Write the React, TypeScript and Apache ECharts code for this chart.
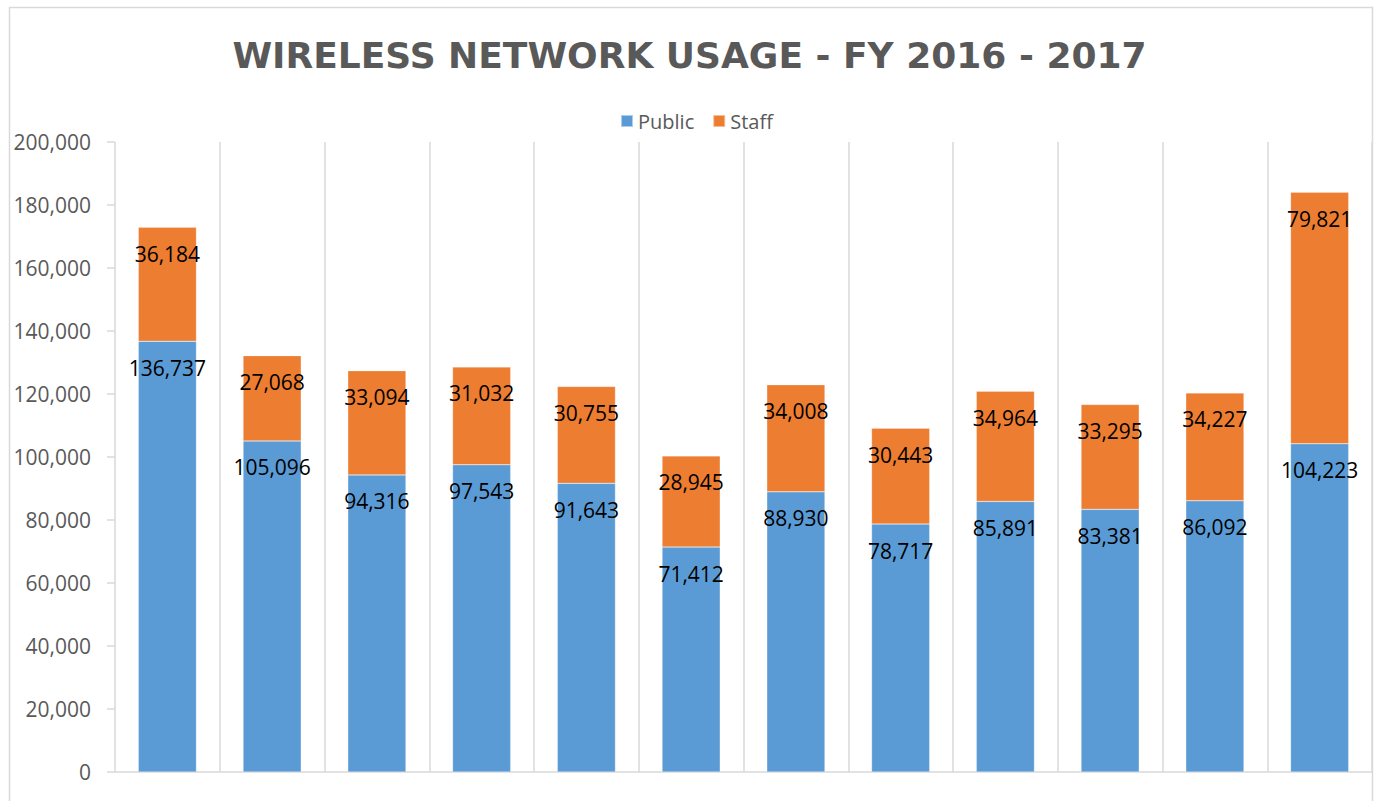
import React, { useEffect, useRef } from "react";
import * as echarts from "echarts";

const categories = ["Jul", "Aug", "Sep", "Oct", "Nov", "Dec", "Jan", "Feb", "Mar", "Apr", "May", "Jun"];
const publicValues = [136737, 105096, 94316, 97543, 91643, 71412, 88930, 78717, 85891, 83381, 86092, 104223];
const staffValues = [36184, 27068, 33094, 31032, 30755, 28945, 34008, 30443, 34964, 33295, 34227, 79821];
const yTicks = { min: 0, max: 200000, interval: 20000 };
const titleText = "WIRELESS NETWORK USAGE - FY 2016 - 2017";

const fmt = (v: number) => v.toLocaleString("en-US");

export default function App() {
  const ref = useRef<HTMLDivElement>(null);
  useEffect(() => {
    if (!ref.current) return;
    const chart = echarts.init(ref.current, null, { renderer: "svg" });
    const labelStyle = {
      show: true,
      position: "insideTop" as const,
      distance: 16,
      color: "#000000",
      fontFamily: "Open Sans",
      fontSize: 21,
      formatter: (p: any) => fmt(p.value),
    };
    chart.setOption({
      animation: false,
      backgroundColor: "#ffffff",
      graphic: [
        {
          type: "rect",
          shape: { x: 9.5, y: 7.5, width: 1363, height: 830 },
          style: { fill: "none", stroke: "#d9d9d9", lineWidth: 1.5 },
          silent: true,
          z: -1,
        },
        {
          type: "text",
          x: 689.5,
          y: 55,
          style: {
            text: titleText,
            fill: "#595959",
            font: "bold 36px 'DejaVu Sans'",
            align: "center",
            verticalAlign: "middle",
          },
        },
      ],
      legend: {
        data: ["Public", "Staff"],
        left: 615,
        top: 106,
        itemWidth: 12,
        itemHeight: 12,
        itemGap: 18,
        icon: "rect",
        textStyle: { color: "#595959", fontFamily: "Open Sans", fontSize: 20, padding: [0, 0, 0, 0] },
      },
      grid: {
        left: 115,
        right: 5,
        top: 142,
        bottom: 29,
        containLabel: false,
        outerBoundsMode: "none",
      },
      xAxis: {
        type: "category",
        data: categories,
        axisLine: { show: true, lineStyle: { color: "#d9d9d9", width: 1.5 } },
        axisTick: { show: false },
        axisLabel: { show: false },
        splitLine: { show: true, lineStyle: { color: "#d9d9d9", width: 1.5 } },
      },
      yAxis: {
        type: "value",
        min: yTicks.min,
        max: yTicks.max,
        interval: yTicks.interval,
        axisLine: { show: false },
        axisTick: { show: true, length: 8, lineStyle: { color: "#d9d9d9", width: 1.5 } },
        splitLine: { show: false },
        axisLabel: {
          color: "#595959",
          fontFamily: "Open Sans",
          fontSize: 21,
          margin: 24,
          formatter: (v: number) => fmt(v),
        },
      },
      series: [
        {
          name: "Public",
          type: "bar",
          stack: "total",
          data: publicValues,
          barWidth: "55.5%",
          itemStyle: { color: "#5B9BD5", borderColor: "rgba(255,255,255,0.5)", borderWidth: 0.5 },
          label: labelStyle,
        },
        {
          name: "Staff",
          type: "bar",
          stack: "total",
          data: staffValues,
          barWidth: "55.5%",
          itemStyle: { color: "#ED7D31", borderColor: "rgba(255,255,255,0.5)", borderWidth: 0.5 },
          label: labelStyle,
        },
      ],
    });
    return () => chart.dispose();
  }, []);
  return (
    <div style={{ position: "absolute", left: 0, top: 0, width: 1377, height: 801, overflow: "hidden", background: "#fff" }}>
      <div ref={ref} style={{ position: "absolute", left: 0, top: 0, width: 1377, height: 801 }} />
    </div>
  );
}
